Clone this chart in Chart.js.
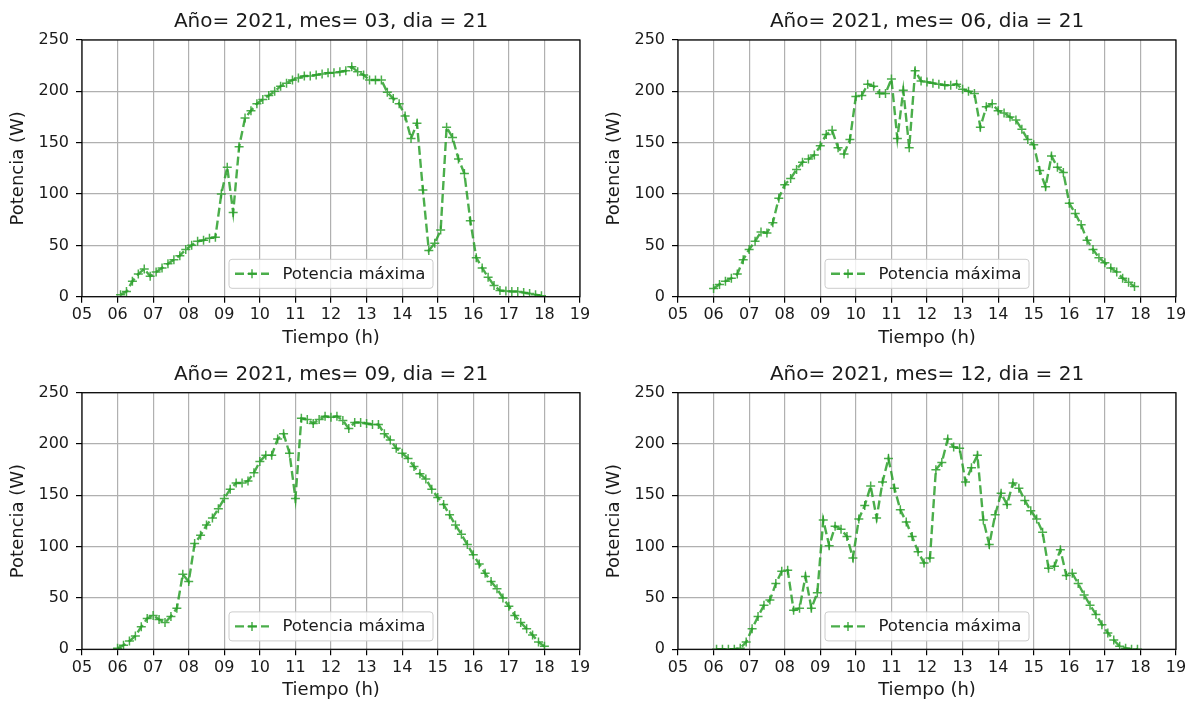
<!DOCTYPE html>
<html>
<head>
<meta charset="utf-8">
<script src="https://cdn.jsdelivr.net/npm/chart.js@4.4.1/dist/chart.umd.min.js"></script>
<style>
  html, body { margin: 0; padding: 0; background: #fff; }
  #fig { position: relative; width: 1187px; height: 703px; overflow: hidden; }
  #fig canvas { position: absolute; }
</style>
</head>
<body>
<div id="fig">
  <canvas id="c1"></canvas>
  <canvas id="c2"></canvas>
  <canvas id="c3"></canvas>
  <canvas id="c4"></canvas>
</div>
<script>
// one reading every 10 minutes
const STEP_MIN = 10;

const titles = [
  "Año= 2021, mes= 03, dia = 21",
  "Año= 2021, mes= 06, dia = 21",
  "Año= 2021, mes= 09, dia = 21",
  "Año= 2021, mes= 12, dia = 21",
];
const firstReading = ["06:05", "06:00", "06:00", "06:05"];

const xTickLabels = ["05", "06", "07", "08", "09", "10", "11", "12", "13", "14", "15", "16", "17", "18", "19"];
const yTicks = [0, 50, 100, 150, 200, 250];

const seriesLabel = "Potencia máxima";
const xTitle = "Tiempo (h)";
const yTitle = "Potencia (W)";

// Potencia (W), 21 de marzo
const potMar = [
  2, 5, 15, 22, 27, 20,
  24, 28, 32, 36, 40, 46,
  50, 54, 55, 57, 58, 100,
  126, 82, 146, 174, 181, 188,
  192, 196, 200, 205, 208, 211,
  213, 215, 215, 216, 217, 218,
  218, 219, 220, 224, 219, 216,
  211, 211, 211, 199, 193, 188,
  176, 154, 169, 104, 45, 52,
  65, 165, 155, 134, 120, 74,
  38, 28, 19, 11, 6, 5.5,
  5, 5, 4, 3, 2, 1,
];
// 21 de junio
const potJun = [
  8, 12, 15, 18, 22, 36,
  46, 54, 63, 62, 72, 96,
  109, 115, 124, 131, 134, 138,
  147, 158, 162, 145, 139, 153,
  195, 196, 207, 205, 198, 198,
  212, 154, 201, 145, 220, 210,
  209, 208, 207, 206, 206, 207,
  202, 200, 198, 165, 185, 188,
  181, 179, 175, 172, 163, 153,
  148, 123, 107, 137, 126, 121,
  91, 81, 70, 55, 46, 38,
  33, 28, 24, 18, 14, 10,
];
// 21 de septiembre
const potSep = [
  1, 4, 8, 13, 22, 30,
  33, 29, 26, 32, 40, 73,
  66, 103, 111, 121, 128, 137,
  147, 156, 162, 162, 164, 172,
  183, 189, 189, 205, 210, 191,
  147, 225, 224, 220, 224, 227,
  226, 227, 223, 215, 221, 221,
  220, 219, 219, 210, 204, 196,
  191, 186, 178, 171, 166, 156,
  148, 141, 131, 121, 112, 102,
  92, 83, 74, 66, 59, 50,
  42, 33, 26, 20, 14, 7,
  3,
];
// 21 de diciembre
const potDic = [
  0, 0, 0, 0, 1, 7,
  20, 32, 43, 48, 64, 76,
  77, 38, 40, 71, 40, 55,
  126, 101, 120, 117, 110, 89,
  127, 140, 159, 128, 163, 186,
  157, 136, 124, 110, 95, 84,
  89, 175, 182, 205, 197, 196,
  163, 177, 189, 126, 102, 131,
  152, 141, 162, 157, 145, 135,
  127, 114, 79, 81, 97, 72,
  74, 64, 53, 43, 34, 24,
  16, 9, 3, 1, 0, 0,
];

const allSeries = [potMar, potJun, potSep, potDic];

// where each subplot sits in the 1187x703 figure
const panels = [
  { id: "c1", left: 0, top: 0, width: 596, height: 351, padRight: 16, plotTop: 40, plotBottom: 296.7 },
  { id: "c2", left: 596, top: 0, width: 591, height: 351, padRight: 11, plotTop: 40, plotBottom: 296.7 },
  { id: "c3", left: 0, top: 351, width: 596, height: 352, padRight: 16, plotTop: 41.7, plotBottom: 298.3 },
  { id: "c4", left: 596, top: 351, width: 591, height: 352, padRight: 11, plotTop: 41.7, plotBottom: 298.3 },
];

const FONT = "'DejaVu Sans', sans-serif";
const lineColor = "rgba(44,160,44,0.85)";
const textColor = "#1a1a1a";
const gridColor = "#b0b0b0";

function toHours(hhmm) {
  const [h, m] = hhmm.split(":").map(Number);
  return h + m / 60;
}

function buildPoints(values, start) {
  const t0 = toHours(start);
  return values.map((v, i) => ({ x: t0 + (i * STEP_MIN) / 60, y: v }));
}

// title centred over the axes, like matplotlib's ax.set_title
const axesTitle = {
  id: "axesTitle",
  afterDraw(chart, args, opts) {
    const { ctx, chartArea: a } = chart;
    ctx.save();
    ctx.fillStyle = textColor;
    ctx.font = "20px " + FONT;
    ctx.textAlign = "center";
    ctx.textBaseline = "middle";
    ctx.fillText(opts.text, (a.left + a.right) / 2, a.top - 18);
    ctx.restore();
  },
};

// spines on all four sides + matplotlib style legend (lower centre)
const frameAndLegend = {
  id: "frameAndLegend",
  afterDatasetsDraw(chart) {
    const { ctx, chartArea: a } = chart;
    const ds = chart.data.datasets[0];
    ctx.save();
    ctx.strokeStyle = "#000";
    ctx.lineWidth = 1.2;
    ctx.strokeRect(a.left, a.top, a.right - a.left, a.bottom - a.top);

    const w = 204;
    const h = 29;
    const bx = (a.left + a.right) / 2 - w / 2;
    const by = a.bottom - 8.4 - h;
    ctx.beginPath();
    ctx.roundRect(bx, by, w, h, 3);
    ctx.fillStyle = "rgba(255,255,255,0.8)";
    ctx.fill();
    ctx.strokeStyle = "#cccccc";
    ctx.lineWidth = 1;
    ctx.stroke();

    const cy = by + h / 2;
    ctx.strokeStyle = ds.borderColor;
    ctx.lineWidth = ds.borderWidth;
    ctx.setLineDash(ds.borderDash);
    ctx.beginPath();
    ctx.moveTo(bx + 6, cy);
    ctx.lineTo(bx + 40, cy);
    ctx.stroke();
    ctx.setLineDash([]);

    const mx = bx + 23;
    const r = ds.pointRadius;
    ctx.lineWidth = ds.pointBorderWidth;
    ctx.beginPath();
    ctx.moveTo(mx - r, cy);
    ctx.lineTo(mx + r, cy);
    ctx.moveTo(mx, cy - r);
    ctx.lineTo(mx, cy + r);
    ctx.stroke();

    ctx.fillStyle = textColor;
    ctx.font = "16.6px " + FONT;
    ctx.textBaseline = "middle";
    ctx.textAlign = "left";
    ctx.fillText(ds.label, bx + 53.4, cy + 0.5);
    ctx.restore();
  },
};

function makeChart(panel, idx) {
  const canvas = document.getElementById(panel.id);
  canvas.width = panel.width;
  canvas.height = panel.height;
  canvas.style.left = panel.left + "px";
  canvas.style.top = panel.top + "px";
  canvas.style.width = panel.width + "px";
  canvas.style.height = panel.height + "px";

  const axisHeight = panel.height - panel.plotBottom;

  return new Chart(canvas, {
    type: "line",
    data: {
      datasets: [
        {
          label: seriesLabel,
          data: buildPoints(allSeries[idx], firstReading[idx]),
          borderColor: lineColor,
          backgroundColor: lineColor,
          borderWidth: 2.4,
          borderDash: [9, 4],
          pointStyle: "cross",
          pointRadius: 4.5,
          pointBorderWidth: 1.5,
          pointBorderColor: lineColor,
          pointHoverRadius: 4.5,
          tension: 0,
          fill: false,
        },
      ],
    },
    options: {
      responsive: false,
      animation: false,
      devicePixelRatio: 1,
      layout: { padding: { left: 0, right: panel.padRight, top: panel.plotTop, bottom: 0 } },
      plugins: {
        legend: { display: false },
        tooltip: { enabled: false },
        title: { display: false },
        axesTitle: { text: titles[idx] },
      },
      scales: {
        x: {
          type: "linear",
          min: 5,
          max: 19,
          afterBuildTicks: (scale) => {
            scale.ticks = xTickLabels.map((_, i) => ({ value: 5 + i }));
          },
          afterFit: (scale) => {
            scale.height = axisHeight;
            scale.paddingLeft = 0;
            scale.paddingRight = 0;
          },
          ticks: {
            autoSkip: false,
            maxRotation: 0,
            padding: 3,
            color: textColor,
            font: { family: FONT, size: 16 },
            callback: (v) => xTickLabels[v - 5],
          },
          grid: { color: gridColor, lineWidth: 1.2, tickColor: "#000", tickLength: 6, tickWidth: 1.2 },
          border: { display: false },
          title: {
            display: true,
            text: xTitle,
            color: textColor,
            font: { family: FONT, size: 18 },
            padding: { top: 0, bottom: 1.6 },
          },
        },
        y: {
          min: 0,
          max: 250,
          afterBuildTicks: (scale) => {
            scale.ticks = yTicks.map((v) => ({ value: v }));
          },
          afterFit: (scale) => {
            scale.width = 82;
            scale.paddingTop = 0;
          },
          ticks: {
            padding: 7,
            color: textColor,
            font: { family: FONT, size: 16 },
          },
          grid: { color: gridColor, lineWidth: 1.2, tickColor: "#000", tickLength: 6, tickWidth: 1.2 },
          border: { display: false },
          title: {
            display: true,
            text: yTitle,
            color: textColor,
            font: { family: FONT, size: 18 },
            padding: { top: 8, bottom: 0 },
          },
        },
      },
    },
    plugins: [frameAndLegend, axesTitle],
  });
}

panels.forEach(makeChart);
</script>
</body>
</html>
